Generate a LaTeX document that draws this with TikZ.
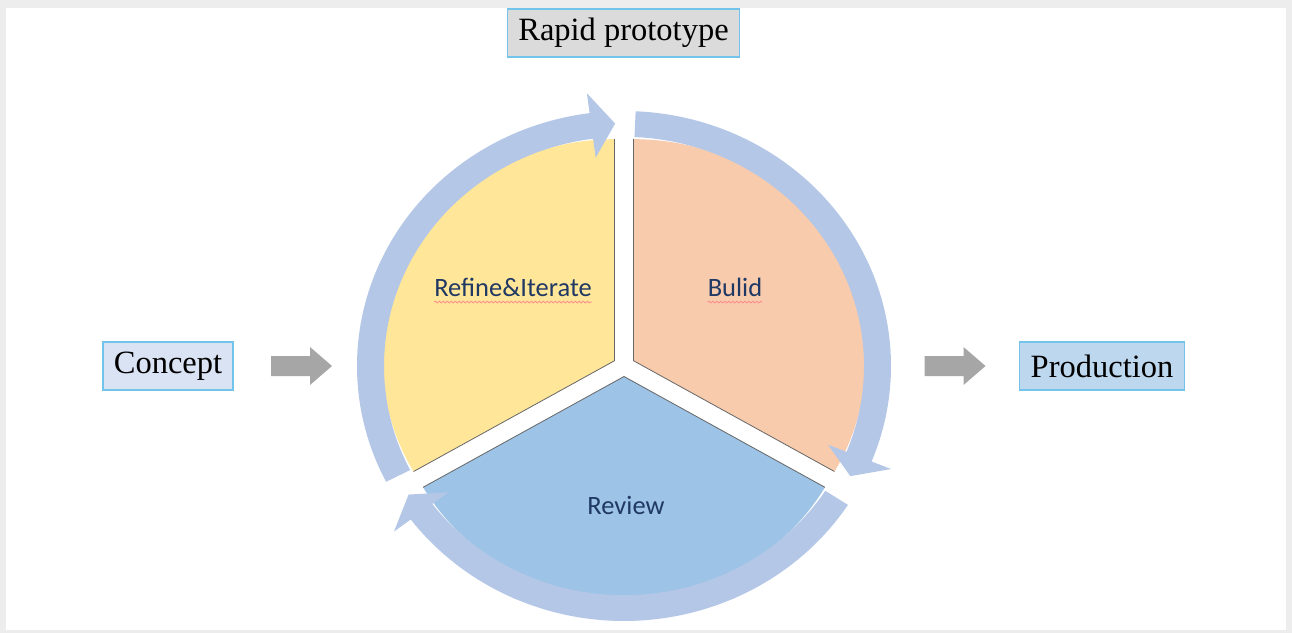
\documentclass[tikz,border=0pt]{standalone}
\usepackage{fontspec}
\setmainfont{Liberation Serif}
\newfontfamily\labelfont{Carlito}
\usetikzlibrary{positioning,decorations.pathmorphing}
\definecolor{ringblue}{HTML}{B4C7E7}
\definecolor{refinefill}{HTML}{FFE699}
\definecolor{buildfill}{HTML}{F8CBAD}
\definecolor{reviewfill}{HTML}{9DC3E6}
\definecolor{boxline}{HTML}{72C4EA}
\definecolor{navy}{HTML}{1F3864}
\definecolor{frame}{HTML}{EDEDED}
\definecolor{conceptfill}{HTML}{DAE3F3}
\definecolor{productionfill}{HTML}{BDD7EE}

\begin{document}
\begin{tikzpicture}[x=1pt,y=1pt,
  stage/.style={draw=boxline,line width=1.4pt,inner xsep=11pt,minimum height=48pt,font=\fontsize{32.5}{36}\selectfont},
  sectorlabel/.style={text=navy,inner sep=0pt,font=\labelfont\fontsize{26.5}{30}\selectfont},
  sectoredge/.style={draw=black!60,line width=0.8pt},
  ringarrow/.style={fill=ringblue},
  blockarrow/.style={fill=black!35},
  squiggle/.style={draw=red!45,line width=0.8pt,decorate,decoration={snake,amplitude=0.9pt,segment length=4pt}}]
\useasboundingbox (0,0) rectangle (1292,633);
\fill[frame] (0,0) rectangle (1292,633);
\fill[white] (6,3) rectangle (1286,625);

% the three stages of the cycle
\coordinate (hub) at (624,267);
\begin{scope}[shift={(hub)},yscale=0.955]
  \fill[refinefill] (150:11) -- ++(90:232) arc[start angle=90,end angle=210,radius=232] -- cycle;
  \fill[buildfill] (30:11) -- ++(90:232) arc[start angle=90,end angle=-30,radius=232] -- cycle;
  \fill[reviewfill] (270:11) -- ++(210:232) arc[start angle=210,end angle=330,radius=232] -- cycle;
  \draw[sectoredge] (150:11) ++(90:232) -- (150:11) -- ++(210:232);
  \draw[sectoredge] (30:11) ++(90:232) -- (30:11) -- ++(-30:232);
  \draw[sectoredge] (270:11) ++(210:232) -- (270:11) -- ++(330:232);
  % circular arrows round the cycle
  \fill[ringarrow] (207:267) arc[start angle=207,end angle=97.4,radius=267] -- (97.4:288) -- (92:254) -- (97.4:220) -- (97.4:240) arc[start angle=97.4,end angle=207,radius=240] -- cycle;
  \fill[ringarrow] (87.5:267) arc[start angle=87.5,end angle=-22,radius=267] -- (-22:288) -- (-27:254) -- (-22:220) -- (-22:240) arc[start angle=-22,end angle=87.5,radius=240] -- cycle;
  \fill[ringarrow] (-33:267) arc[start angle=-33,end angle=-143,radius=267] -- (-143:288) -- (-148:254) -- (-143:220) -- (-143:240) arc[start angle=-143,end angle=-33,radius=240] -- cycle;
\end{scope}

\node[sectorlabel] (refine) at (513,346) {Refine\&Iterate};
\node[sectorlabel] (build) at (735,346) {Bulid};
\node[sectorlabel] (review) at (626,128) {Review};
\draw[squiggle] ([yshift=-6pt]refine.base west) -- ([yshift=-6pt]refine.base east);
\draw[squiggle] ([yshift=-6pt]build.base west) -- ([yshift=-6pt]build.base east);

% boxes round the cycle
\node[stage,fill=black!14] (proto) at (623.5,600) {Rapid prototype};
\node[stage,fill=conceptfill] (concept) at (168,267) {Concept};
\node[stage,fill=productionfill] (production) at (1102,267) {Production};

\coordinate (inarrow) at (301.5,267);
\coordinate (outarrow) at (955,267);
\fill[blockarrow] (inarrow) ++(-30.5,-10) -- ++(39,0) -- ++(0,-9) -- ++(22,19) -- ++(-22,19) -- ++(0,-9) -- ++(-39,0) -- cycle;
\fill[blockarrow] (outarrow) ++(-30.5,-10) -- ++(39,0) -- ++(0,-9) -- ++(22,19) -- ++(-22,19) -- ++(0,-9) -- ++(-39,0) -- cycle;
\end{tikzpicture}
\end{document}
